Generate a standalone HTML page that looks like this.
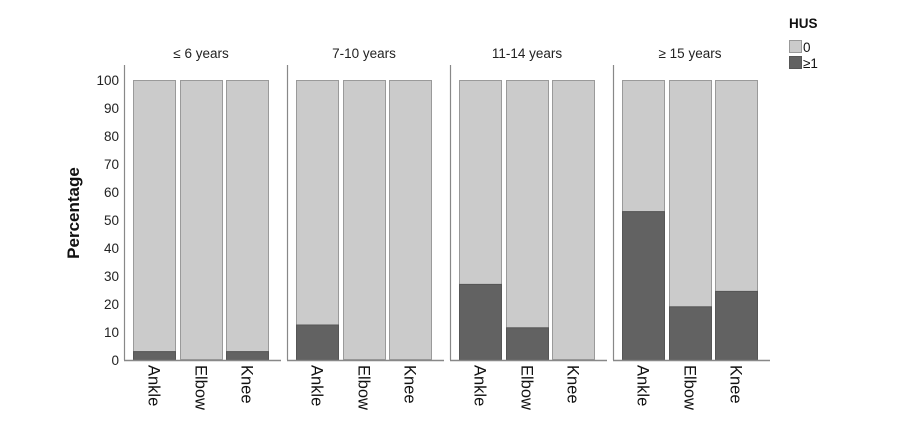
<!DOCTYPE html>
<html><head><meta charset="utf-8"><style>
html,body{margin:0;padding:0;background:#fff;}
svg{display:block;font-family:"Liberation Sans",Arial,sans-serif;}
</style></head><body>
<svg width="900" height="423" viewBox="0 0 900 423" xmlns="http://www.w3.org/2000/svg">
<rect width="900" height="423" fill="#fff"/>
<g font-size="13.5" fill="#222" text-anchor="end">
<text x="119" y="365">0</text>
<text x="119" y="337">10</text>
<text x="119" y="309">20</text>
<text x="119" y="281">30</text>
<text x="119" y="253">40</text>
<text x="119" y="225">50</text>
<text x="119" y="197">60</text>
<text x="119" y="169">70</text>
<text x="119" y="141">80</text>
<text x="119" y="113">90</text>
<text x="119" y="85">100</text>
</g>
<text transform="translate(79,213) rotate(-90)" text-anchor="middle" font-size="17" font-weight="bold" fill="#111">Percentage</text>
<script>
var svg=document.querySelector('svg');
var ns="http://www.w3.org/2000/svg";
var axes=[124,287,450,613];
var titles=["≤ 6 years","7-10 years","11-14 years","≥ 15 years"];
var vals=[[3,0,3],[12.5,0,0],[27,11.5,0],[53,19,24.5]];
var names=["Ankle","Elbow","Knee"];
var offs=[9,56,102];
function el(t,a,txt){var e=document.createElementNS(ns,t);for(var k in a)e.setAttribute(k,a[k]);if(txt)e.textContent=txt;svg.appendChild(e);return e;}
axes.forEach(function(ax,p){
  el('line',{x1:ax+0.5,y1:65,x2:ax+0.5,y2:360,stroke:'#888','stroke-width':1.2});
  el('text',{x:ax+77,y:58,'text-anchor':'middle','font-size':13.5,fill:'#222'},titles[p]);
  offs.forEach(function(o,i){
    var x=ax+o,w=43,v=vals[p][i];
    el('rect',{x:x+0.5,y:80.5,width:w-1,height:279,fill:'#cbcbcb',stroke:'#9a9a9a','stroke-width':1});
    if(v>0){var h=v*2.8;el('rect',{x:x+0.5,y:360-h,width:w-1,height:h,fill:'#626262',stroke:'#555','stroke-width':1});}
    el('text',{transform:'translate('+(x+w/2-6)+',365) rotate(90)','font-size':16.5,fill:'#111'},names[i]);
  });
  el('line',{x1:ax,y1:360.5,x2:ax+157,y2:360.5,stroke:'#888','stroke-width':1.5});
});
</script>
<text x="789" y="28" font-size="13.5" font-weight="bold" fill="#111">HUS</text>
<rect x="789.5" y="40.5" width="12" height="12" fill="#cbcbcb" stroke="#999"/>
<text x="803" y="52" font-size="13.5" fill="#111">0</text>
<rect x="789.5" y="56.5" width="12" height="12" fill="#626262" stroke="#555"/>
<text x="803" y="68" font-size="13.5" fill="#111">≥1</text>
</svg>
</body></html>
